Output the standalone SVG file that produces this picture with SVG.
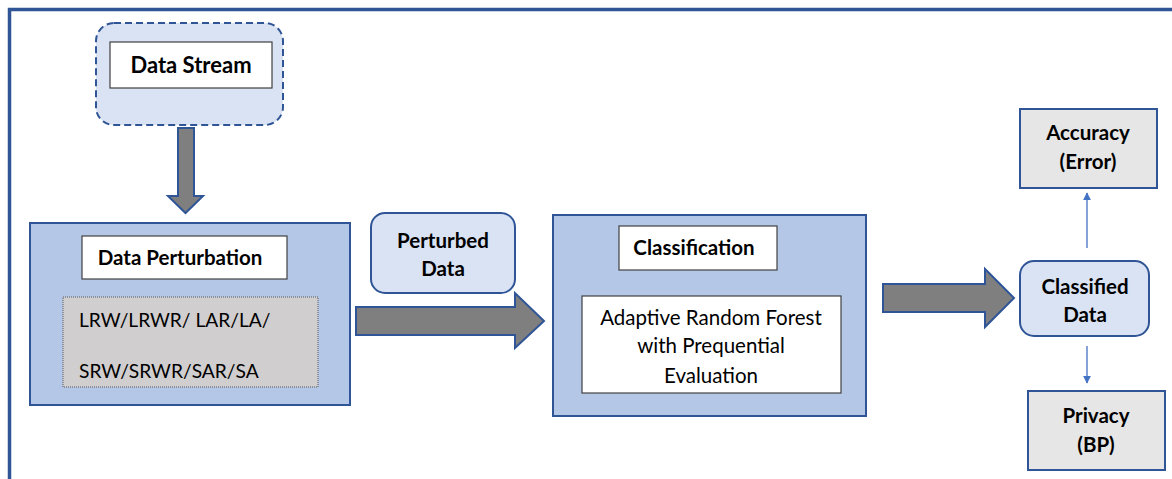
<svg xmlns="http://www.w3.org/2000/svg" width="1172" height="479" viewBox="0 0 1172 479">
<defs>
<style>
.t{font-family:Lato,"Open Sans","Liberation Sans",sans-serif;fill:#000;text-anchor:middle;font-size:20.5px}
.b{font-weight:bold}
.panel{fill:#b4c7e7;stroke:#2f5597;stroke-width:2}
.white{fill:#fff;stroke:#404040;stroke-width:1.2}
.soft{fill:#dae3f3;stroke:#2f5597;stroke-width:2}
.grey{fill:#e7e6e6;stroke:#2f5597;stroke-width:2}
.big{fill:#7f7f7f;stroke:#2f5597;stroke-width:2;stroke-linejoin:miter}
.thin{stroke:#4472c4;stroke-width:1.3;fill:none}
</style>
<marker id="ah" viewBox="0 0 10 10" refX="9" refY="5" markerWidth="8" markerHeight="8" markerUnits="userSpaceOnUse" orient="auto">
<path d="M0,0 L10,5 L0,10 z" fill="#4472c4"/>
</marker>
</defs>
<rect x="0" y="0" width="1172" height="479" fill="#fff"/>
<path d="M9.5,479 V9.5 H1172" fill="none" stroke="#2f5597" stroke-width="3.5"/>

<g id="data-stream">
<rect x="96" y="23" width="187" height="102" rx="18" fill="#dae3f3" stroke="#2f5597" stroke-width="2" stroke-dasharray="7,4"/>
<rect x="110" y="42" width="162" height="46" class="white"/>
<text x="191" y="73" class="t b" style="font-size:22px">Data Stream</text>
</g>

<g id="data-perturbation">
<rect x="30" y="223" width="320" height="182" class="panel"/>
<rect x="82" y="236" width="205" height="43" class="white"/>
<text x="180" y="265" class="t b">Data Perturbation</text>
<rect x="63" y="297" width="255" height="90" fill="#d0cece" stroke="#595959" stroke-width="1" stroke-dasharray="1,1"/>
<text x="79" y="327" class="t" style="font-size:19.2px;text-anchor:start">LRW/LRWR/ LAR/LA/</text>
<text x="79" y="378" class="t" style="font-size:19.2px;text-anchor:start">SRW/SRWR/SAR/SA</text>
</g>

<g id="perturbed-data">
<rect x="371" y="213" width="144" height="80" rx="14" class="soft"/>
<text x="443" y="248" class="t b">Perturbed</text>
<text x="443" y="276" class="t b">Data</text>
</g>

<g id="classification">
<rect x="553" y="215" width="313" height="201" class="panel"/>
<rect x="619" y="226" width="158" height="44" class="white"/>
<text x="694" y="255" class="t b">Classification</text>
<rect x="582" y="296" width="259" height="97" class="white"/>
<text x="711" y="325" class="t">Adaptive Random Forest</text>
<text x="711" y="353" class="t">with Prequential</text>
<text x="711" y="383" class="t">Evaluation</text>
</g>

<g id="classified-data">
<rect x="1020" y="261" width="129" height="75" rx="14" class="soft"/>
<text x="1085" y="294" class="t b">Classified</text>
<text x="1085" y="322" class="t b">Data</text>
</g>

<g id="accuracy">
<rect x="1020" y="109" width="137" height="79" class="grey"/>
<text x="1088" y="140" class="t b">Accuracy</text>
<text x="1088" y="169" class="t b">(Error)</text>
</g>

<g id="privacy">
<rect x="1028" y="391" width="137" height="79" class="grey"/>
<text x="1096" y="423" class="t b">Privacy</text>
<text x="1096" y="452" class="t b">(BP)</text>
</g>

<g id="connectors">
<path class="big" d="M178,128 H194 V196 H203 L185.5,213 L168,196 H178 Z"/>
<path class="big" d="M356,307 H515 V293 L544,321 L515,348 V335 H356 Z"/>
<path class="big" d="M883,284 H985 V269 L1014,298 L985,327 V312 H883 Z"/>
<line class="thin" x1="1087" y1="248" x2="1087" y2="193" marker-end="url(#ah)"/>
<line class="thin" x1="1087" y1="346" x2="1087" y2="383" marker-end="url(#ah)"/>
</g>
</svg>
